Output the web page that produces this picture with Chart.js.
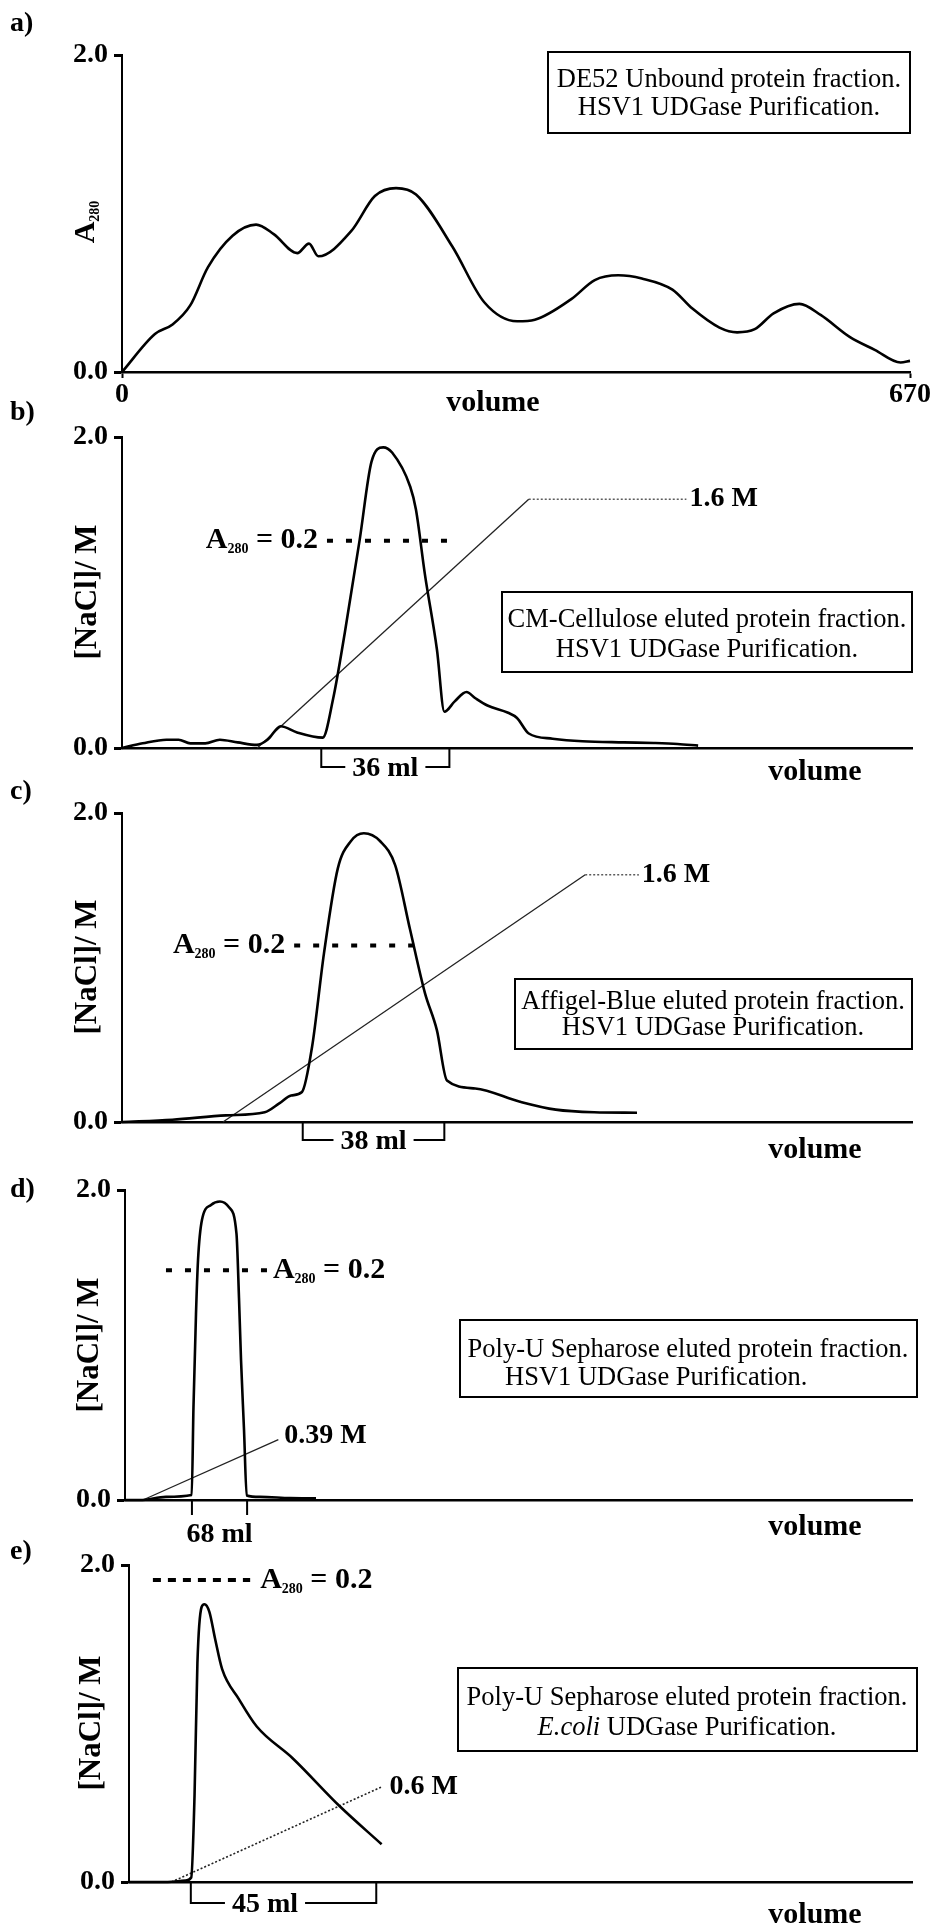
<!DOCTYPE html>
<html>
<head>
<meta charset="utf-8">
<title>UDGase purification chromatograms</title>
<script src="https://cdn.jsdelivr.net/npm/chart.js@4.4.1/dist/chart.umd.min.js"></script>
<style>
  html, body { margin: 0; padding: 0; background: #fff; }
  #page { position: relative; width: 931px; height: 1928px; overflow: hidden; }
  .panel { position: absolute; left: 0; top: 0; width: 931px; height: 1928px; }
</style>
</head>
<body>
<div id="page">
  <div class="panel"><canvas id="chartA"></canvas></div>
  <div class="panel"><canvas id="chartB"></canvas></div>
  <div class="panel"><canvas id="chartC"></canvas></div>
  <div class="panel"><canvas id="chartD"></canvas></div>
  <div class="panel"><canvas id="chartE"></canvas></div>
</div>
<script>
// ---------------- data ----------------
// shared axis ticks
const yTicks = [0, 2];          // [NaCl] / A280 axis, drawn as 0.0 and 2.0
const xTicksA = [0, 670];       // panel a volume ticks (ml)
const refA280 = 0.2;            // A280 reference level drawn as the dotted bar

// (a) DE52 unbound protein fraction: volume (ml) vs A280
const volA = [0, 28, 43, 58, 73, 94, 114, 129, 149, 159, 167, 195, 215, 233, 250, 281, 308, 336, 351, 382, 402, 422, 442, 468, 485, 508, 523, 538, 554, 576, 594, 619, 640, 662, 670];
const absA = [0, 0.24, 0.30, 0.42, 0.66, 0.86, 0.93, 0.87, 0.75, 0.81, 0.73, 0.89, 1.11, 1.16, 1.12, 0.79, 0.44, 0.32, 0.33, 0.46, 0.58, 0.61, 0.59, 0.52, 0.40, 0.28, 0.25, 0.27, 0.37, 0.43, 0.36, 0.22, 0.14, 0.06, 0.07];

// (b) CM-cellulose eluted fraction
const volB = [0, 5.8, 12.5, 15.9, 19.2, 23.4, 27.5, 32.5, 37.9, 40.9, 44.6, 49.2, 56.4, 59.3, 62.6, 66.8, 70.1, 73.4, 75.9, 81.0, 82.6, 85.1, 88.5, 90.6, 93.5, 96.8, 99.3, 102.7, 108.5, 111.0, 114.3, 121.0, 129.4, 141.0, 149.4, 156.1, 161.9];
const absB = [0, 0.0045, 0.008, 0.008, 0.0045, 0.0045, 0.008, 0.0054, 0.003, 0.008, 0.021, 0.015, 0.010, 0.047, 0.111, 0.201, 0.276, 0.290, 0.285, 0.252, 0.230, 0.168, 0.095, 0.035, 0.045, 0.054, 0.048, 0.041, 0.034, 0.029, 0.014, 0.009, 0.0065, 0.0054, 0.0048, 0.0039, 0.0023];
const saltVolB = [38, 114.3];
const saltB = [0, 1.6];
const markB = [57.6, 94.4];
const poolB = [56, 92];

// (c) Affigel-Blue eluted fraction
const volC = [0, 13.5, 27.9, 38.3, 42.2, 45.4, 48.3, 51.0, 54.2, 57.9, 61.4, 64.9, 69.3, 73.3, 77.3, 81.3, 84.5, 87.2, 94.8, 106.8, 116.4, 126.7, 138.2];
const absC = [0, 0.0026, 0.0075, 0.011, 0.021, 0.030, 0.034, 0.085, 0.191, 0.287, 0.318, 0.327, 0.318, 0.291, 0.218, 0.146, 0.104, 0.047, 0.038, 0.023, 0.014, 0.011, 0.0105];
const saltVolC = [27.1, 124.3];
const saltC = [0, 1.6];
const markC = [46.2, 81.3];
const poolC = [48.5, 86.5];

// (d) Poly-U Sepharose eluted fraction, HSV1
const volD = [0, 18.5, 50.5, 82.2, 84.4, 87.5, 90, 94.9, 106, 117, 128.2, 137.4, 140.5, 143, 146.7, 150, 166.4, 203.4, 235.4];
const absD = [0, 0, 0.0027, 0.0043, 0.081, 0.162, 0.209, 0.244, 0.257, 0.260, 0.255, 0.232, 0.176, 0.122, 0.061, 0.004, 0.0027, 0.0016, 0.0014];
const saltVolD = [22, 189];
const saltD = [0, 0.39];
const markD = [50.5, 176.2];
const poolD = [82.5, 150.5];

// (e) Poly-U Sepharose eluted fraction, E. coli
const volE = [0, 9.4, 13.7, 15.1, 15.9, 16.6, 17.6, 18.3, 19.5, 20.9, 22.6, 26.7, 31.0, 39.7, 51.2, 61.3];
const absE = [0, 0, 0.001, 0.003, 0.057, 0.145, 0.182, 0.184, 0.179, 0.161, 0.141, 0.121, 0.103, 0.082, 0.050, 0.025];
const saltVolE = [10.3, 61.3];
const saltE = [0, 0.6];
const markE = [5.8, 29.4];
const poolE = [15, 60];

// ---------------- drawing ----------------
const SERIF = '"Liberation Serif", "Times New Roman", Times, serif';
Chart.defaults.font.family = SERIF;
Chart.defaults.color = '#000';
const X_H = 40;            // height reserved for the x axis box
const PAGE_W = 931, PAGE_H = 1928;

function pts(xs, ys) { return xs.map((x, i) => ({ x: x, y: ys[i] })); }

function fnt(size, bold, italic) {
  return (italic ? 'italic ' : '') + (bold ? 'bold ' : '') + size + 'px ' + SERIF;
}

function txt(ctx, s, x, y, size, opt) {
  opt = opt || {};
  ctx.save();
  ctx.font = fnt(size, opt.bold !== false, opt.italic);
  ctx.fillStyle = '#000';
  ctx.textAlign = opt.align || 'center';
  ctx.textBaseline = 'middle';
  ctx.fillText(s, x, y);
  ctx.restore();
}

// text made of runs, e.g. A with a subscript 280: parts = [[text, size, dy, bold, italic], ...]
function richText(ctx, parts, x, y, align) {
  ctx.save();
  ctx.fillStyle = '#000';
  ctx.textBaseline = 'middle';
  ctx.textAlign = 'left';
  let total = 0;
  const widths = parts.map(p => { ctx.font = fnt(p[1], p[3] !== false, p[4]); const w = ctx.measureText(p[0]).width; total += w; return w; });
  let cx = align === 'right' ? x - total : (align === 'center' ? x - total / 2 : x);
  parts.forEach((p, i) => {
    ctx.font = fnt(p[1], p[3] !== false, p[4]);
    ctx.fillText(p[0], cx, y + (p[2] || 0));
    cx += widths[i];
  });
  ctx.restore();
}

function a280Parts(withValue) {
  const parts = [['A', 30, 0], ['280', 14, 9]];
  if (withValue) parts.push([' = ' + refA280.toFixed(1), 30, 0]);
  return parts;
}

function rotated(ctx, cx, cy, drawFn) {
  ctx.save();
  ctx.translate(cx, cy);
  ctx.rotate(-Math.PI / 2);
  drawFn();
  ctx.restore();
}

function frame(ctx, x0, y0, x1, y1) {
  ctx.save();
  ctx.strokeStyle = '#000';
  ctx.lineWidth = 2;
  ctx.strokeRect(x0, y0, x1 - x0, y1 - y0);
  ctx.restore();
}

function bracket(chart, pool, yb, labelVol, withBar) {
  const ctx = chart.ctx, xs = chart.scales.x, yAxis = chart.chartArea.bottom;
  const x0 = xs.getPixelForValue(pool[0]), x1 = xs.getPixelForValue(pool[1]);
  ctx.save();
  ctx.strokeStyle = '#000';
  ctx.lineWidth = 2;
  ctx.beginPath();
  if (withBar) {
    ctx.moveTo(x0, yAxis); ctx.lineTo(x0, yb); ctx.lineTo(x1, yb); ctx.lineTo(x1, yAxis);
  } else {
    ctx.moveTo(x0, yAxis); ctx.lineTo(x0, yb);
    ctx.moveTo(x1, yAxis); ctx.lineTo(x1, yb);
  }
  ctx.stroke();
  const label = Math.round(pool[1] - pool[0]) + ' ml';
  const cx = xs.getPixelForValue(labelVol);
  ctx.font = fnt(28, true);
  const w = ctx.measureText(label).width;
  if (withBar) {
    ctx.fillStyle = '#fff';
    ctx.fillRect(cx - w / 2 - 7, yb - 4, w + 14, 8);
    txt(ctx, label, cx, yb + 2, 28);
  } else {
    txt(ctx, label, cx, yb + 20, 28);
  }
  ctx.restore();
}

function naclTitle(ctx, cx, cy) {
  rotated(ctx, cx, cy, () => txt(ctx, '[NaCl]/ M', 0, 0, 31));
}

function makeChart(id, geo, cfg) {
  const xOpts = {
    type: 'linear', position: 'bottom', min: 0, max: cfg.xMax,
    ticks: { display: !!cfg.xTicks, autoSkip: false, maxRotation: 0, padding: 0,
             font: { size: 28, weight: 'bold' }, color: '#000', callback: v => String(v) },
    grid: { display: !!cfg.xTicks, drawOnChartArea: false, drawTicks: true, tickLength: 6, tickWidth: 2, color: '#000' },
    border: { display: true, color: '#000', width: 2.5 },
    afterFit: s => { s.height = X_H; s.paddingLeft = 0; s.paddingRight = 0; }
  };
  if (cfg.xTicks) xOpts.afterBuildTicks = s => { s.ticks = cfg.xTicks.map(v => ({ value: v })); };

  return new Chart(document.getElementById(id), {
    type: 'line',
    data: { datasets: cfg.datasets },
    options: {
      responsive: true, maintainAspectRatio: false, animation: false, events: [],
      layout: { padding: { left: 0, right: PAGE_W - geo.right, top: geo.top, bottom: PAGE_H - geo.bottom - X_H } },
      plugins: { legend: { display: false }, tooltip: { enabled: false } },
      elements: { point: { radius: 0 } },
      scales: {
        x: xOpts,
        y: {
          type: 'linear', position: 'left', min: 0, max: 2,
          afterBuildTicks: s => { s.ticks = yTicks.map(v => ({ value: v })); },
          ticks: { padding: 6, font: { size: 28, weight: 'bold' }, color: '#000', callback: v => Number(v).toFixed(1) },
          grid: { drawOnChartArea: false, drawTicks: true, tickLength: 8, tickWidth: 3, color: '#000' },
          border: { display: true, color: '#000', width: 2 },
          afterFit: s => { s.width = geo.left; s.paddingTop = 0; s.paddingBottom = 0; }
        },
        yA: { type: 'linear', display: false, min: 0, max: cfg.absMax }
      }
    },
    plugins: [{ id: 'panelText', afterDraw: cfg.draw }]
  });
}

function curve(xs, ys, axis) {
  return { data: pts(xs, ys), yAxisID: axis, borderColor: '#000', borderWidth: 2.6,
           cubicInterpolationMode: 'monotone', pointRadius: 0, fill: false, clip: false };
}
function salt(xs, ys, dotted) {
  return { data: pts(xs, ys), yAxisID: 'y', borderColor: '#222', borderWidth: dotted ? 1.6 : 1.3,
           borderDash: dotted ? [2, 2] : [], pointRadius: 0, fill: false, clip: false };
}
function leader(fromVol, toVol, level) {
  return { data: [{ x: fromVol, y: level }, { x: toVol, y: level }], yAxisID: 'y', borderColor: '#333',
           borderWidth: 1.2, borderDash: [2, 2], pointRadius: 0, fill: false, clip: false };
}
function refBar(xs, dash) {
  return { data: pts(xs, [refA280, refA280]), yAxisID: 'yA', borderColor: '#000', borderWidth: 4,
           borderDash: dash, borderCapStyle: 'butt', pointRadius: 0, fill: false, clip: false };
}

// ---------- panel a ----------
makeChart('chartA', { left: 122, right: 910, top: 55, bottom: 372 }, {
  xMax: 670, xTicks: xTicksA, absMax: 2,
  datasets: [curve(volA, absA, 'y')],
  draw: chart => {
    const ctx = chart.ctx;
    txt(ctx, 'a)', 10, 24, 28, { align: 'left' });
    rotated(ctx, 86, 222, () => richText(ctx, a280Parts(false), 0, 0, 'center'));
    txt(ctx, 'volume', 493, 403, 30);
    frame(ctx, 548, 52, 910, 133);
    txt(ctx, 'DE52 Unbound protein fraction.', 729, 80, 26.5, { bold: false });
    txt(ctx, 'HSV1 UDGase Purification.', 729, 108, 26.5, { bold: false });
  }
});

// ---------- panel b ----------
const leaderEndB = 158.6;
makeChart('chartB', { left: 122, right: 912, top: 437, bottom: 748 }, {
  xMax: 222, absMax: 0.30,
  datasets: [curve(volB, absB, 'yA'), salt(saltVolB, saltB), leader(saltVolB[1], leaderEndB, saltB[1]), refBar(markB, [6, 13])],
  draw: chart => {
    const ctx = chart.ctx, xs = chart.scales.x, ys = chart.scales.y, ya = chart.scales.yA;
    txt(ctx, 'b)', 10, 413, 28, { align: 'left' });
    naclTitle(ctx, 88, 592);
    txt(ctx, 'volume', 815, 772, 30);
    richText(ctx, a280Parts(true), xs.getPixelForValue(markB[0]) - 9, ya.getPixelForValue(refA280), 'right');
    txt(ctx, saltB[1].toFixed(1) + ' M', xs.getPixelForValue(leaderEndB) + 3, ys.getPixelForValue(saltB[1]), 28, { align: 'left' });
    bracket(chart, poolB, 767, (poolB[0] + poolB[1]) / 2, true);
    frame(ctx, 502, 592, 912, 672);
    txt(ctx, 'CM-Cellulose eluted protein fraction.', 707, 620, 26.5, { bold: false });
    txt(ctx, 'HSV1 UDGase Purification.', 707, 650, 26.5, { bold: false });
  }
});

// ---------- panel c ----------
const leaderEndC = 138.7;
makeChart('chartC', { left: 122, right: 912, top: 813, bottom: 1122 }, {
  xMax: 212, absMax: 0.35,
  datasets: [curve(volC, absC, 'yA'), salt(saltVolC, saltC), leader(saltVolC[1], leaderEndC, saltC[1]), refBar(markC, [6, 13])],
  draw: chart => {
    const ctx = chart.ctx, xs = chart.scales.x, ys = chart.scales.y, ya = chart.scales.yA;
    txt(ctx, 'c)', 10, 792, 28, { align: 'left' });
    naclTitle(ctx, 88, 967);
    txt(ctx, 'volume', 815, 1150, 30);
    richText(ctx, a280Parts(true), xs.getPixelForValue(markC[0]) - 9, ya.getPixelForValue(refA280), 'right');
    txt(ctx, saltC[1].toFixed(1) + ' M', xs.getPixelForValue(leaderEndC) + 3, ys.getPixelForValue(saltC[1]), 28, { align: 'left' });
    bracket(chart, poolC, 1140, (poolC[0] + poolC[1]) / 2, true);
    frame(ctx, 515, 979, 912, 1049);
    txt(ctx, 'Affigel-Blue eluted protein fraction.', 713, 1002, 26.5, { bold: false });
    txt(ctx, 'HSV1 UDGase Purification.', 713, 1028, 26.5, { bold: false });
  }
});

// ---------- panel d ----------
makeChart('chartD', { left: 125, right: 912, top: 1190, bottom: 1500 }, {
  xMax: 970, absMax: 0.27,
  datasets: [curve(volD, absD, 'yA'), salt(saltVolD, saltD), refBar(markD, [6, 13])],
  draw: chart => {
    const ctx = chart.ctx, xs = chart.scales.x, ys = chart.scales.y, ya = chart.scales.yA;
    txt(ctx, 'd)', 10, 1190, 28, { align: 'left' });
    naclTitle(ctx, 90, 1345);
    txt(ctx, 'volume', 815, 1527, 30);
    richText(ctx, a280Parts(true), xs.getPixelForValue(markD[1]) + 5, ya.getPixelForValue(refA280), 'left');
    txt(ctx, saltD[1].toFixed(2) + ' M', xs.getPixelForValue(saltVolD[1]) + 6, ys.getPixelForValue(saltD[1]) - 4, 28, { align: 'left' });
    bracket(chart, poolD, 1515, (poolD[0] + poolD[1]) / 2, false);
    frame(ctx, 460, 1320, 917, 1397);
    txt(ctx, 'Poly-U Sepharose eluted protein fraction.', 688, 1350, 26.5, { bold: false });
    txt(ctx, 'HSV1 UDGase Purification.', 505, 1378, 26.5, { bold: false, align: 'left' });
  }
});

// ---------- panel e ----------
makeChart('chartE', { left: 129, right: 912, top: 1565, bottom: 1882 }, {
  xMax: 190, absMax: 0.21,
  datasets: [curve(volE, absE, 'yA'), salt(saltVolE, saltE, true), refBar(markE, [8, 7])],
  draw: chart => {
    const ctx = chart.ctx, xs = chart.scales.x, ys = chart.scales.y, ya = chart.scales.yA;
    txt(ctx, 'e)', 10, 1552, 28, { align: 'left' });
    naclTitle(ctx, 92, 1723);
    txt(ctx, 'volume', 815, 1915, 30);
    richText(ctx, a280Parts(true), xs.getPixelForValue(markE[1]) + 10, ya.getPixelForValue(refA280), 'left');
    txt(ctx, saltE[1].toFixed(1) + ' M', xs.getPixelForValue(saltVolE[1]) + 8, ys.getPixelForValue(saltE[1]), 28, { align: 'left' });
    bracket(chart, poolE, 1903, 33, true);
    frame(ctx, 458, 1668, 917, 1751);
    txt(ctx, 'Poly-U Sepharose eluted protein fraction.', 687, 1698, 26.5, { bold: false });
    richText(ctx, [['E.coli', 26.5, 0, false, true], [' UDGase Purification.', 26.5, 0, false]], 687, 1728, 'center');
  }
});
</script>
</body>
</html>
